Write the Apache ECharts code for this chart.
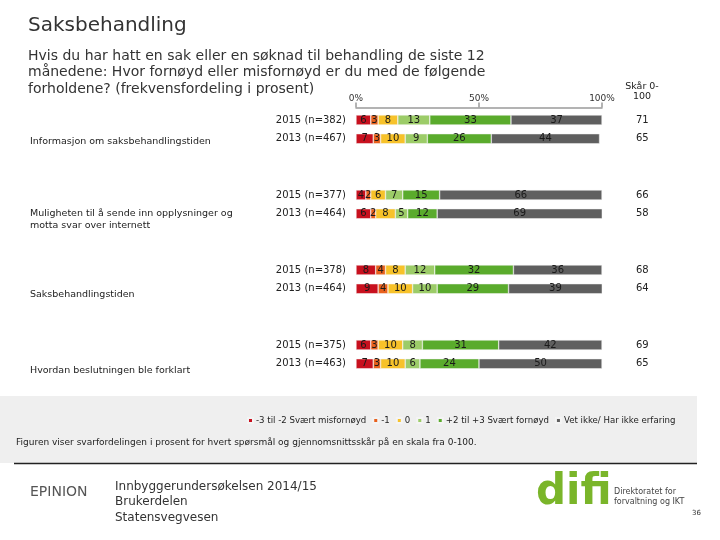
<!DOCTYPE html>
<html><head><meta charset="utf-8">
<script src="https://cdn.jsdelivr.net/npm/echarts@6/dist/echarts.min.js"></script>
<style>html,body{margin:0;padding:0;background:#fff}#c{width:720px;height:540px}</style>
</head><body><div id="c"></div>
<script>
const rowLabels = ["2015 (n=382)","2013 (n=467)","2015 (n=377)","2013 (n=464)","2015 (n=378)","2013 (n=464)","2015 (n=375)","2013 (n=463)"];
const groupLabels = ["Informasjon om saksbehandlingstiden","Muligheten til å sende inn opplysninger og\nmotta svar over internett","Saksbehandlingstiden","Hvordan beslutningen ble forklart"];
const seriesNames = ["-3 til -2 Svært misfornøyd","-1","0","1","+2 til +3 Svært fornøyd","Vet ikke/ Har ikke erfaring"];
const vNeg3to2 = [6,7,4,6,8,9,6,7];
const vNeg1    = [3,3,2,2,4,4,3,3];
const vZero    = [8,10,6,8,8,10,10,10];
const vOne     = [13,9,7,5,12,10,8,6];
const vPos2to3 = [33,26,15,12,32,29,31,24];
const vDontKnow= [37,44,66,69,36,39,42,50];
const scores   = [71,65,66,58,68,64,69,65];
const xTicks = ["0%","50%","100%"];
const colors = ["#c8101e","#e8601c","#f7c22a","#9ccc68","#5aab2c","#5f5f5f"];

const slots = [], slotIdx = [];
rowLabels.forEach((l,i)=>{
  slots.push(l); slotIdx.push(i);
  if (i%2===1 && i<rowLabels.length-1){ slots.push("_b"+i+"a"); slotIdx.push(-1); slots.push("_b"+i+"b"); slotIdx.push(-1); }
});
const pad = arr => slotIdx.map(k => k<0 ? null : arr[k]);
const allVals = [vNeg3to2,vNeg1,vZero,vOne,vPos2to3,vDontKnow];

const chart = echarts.init(document.getElementById('c'), null, {renderer:'canvas'});
const FONT = "DejaVu Sans";
chart.setOption({
  animation:false,
  backgroundColor:'#fff',
  textStyle:{fontFamily:FONT},
  color:colors,
  grid:{left:356,right:118,top:110.6,height:262.5,containLabel:false},
  xAxis:{type:'value',position:'top',min:0,max:100,interval:50,offset:3,
    axisLine:{show:true,lineStyle:{color:'#9a9a9a',width:1.5}},
    axisTick:{show:true,length:5,lineStyle:{color:'#9a9a9a',width:1.5}},
    splitLine:{show:false},
    axisLabel:{fontSize:9,color:'#333',margin:4,formatter:(v)=>xTicks[Math.round(v/50)]}},
  yAxis:[
    {type:'category',inverse:true,data:slots,
      axisLine:{show:false},axisTick:{show:false},
      axisLabel:{fontSize:10,color:'#222',margin:10,formatter:(v)=>v.startsWith('_')?'':v}},
    {type:'category',inverse:true,position:'right',data:slots,
      axisLine:{show:false},axisTick:{show:false},
      axisLabel:{fontSize:10,color:'#222',margin:34,formatter:(v,i)=>slotIdx[i]<0?'':String(scores[slotIdx[i]])}}
  ],
  legend:{left:242,top:411,width:470,itemWidth:5,itemHeight:5,itemGap:6,icon:'rect',
    textStyle:{fontSize:8.6,color:'#222',fontFamily:FONT,padding:[0,0,0,-2]},data:seriesNames},
  series: seriesNames.map((n,si)=>({
    name:n,type:'bar',stack:'s',barWidth:10,yAxisIndex:0,
    data:pad(allVals[si]),
    itemStyle:{color:colors[si],borderColor:'#f4f4f4',borderWidth:0.5},
    label:{show:true,position:'inside',fontSize:10,color:'#1a1a1a',fontFamily:FONT,
      formatter:(p)=>p.value==null?'':String(p.value)}
  })),
  graphic:[
    {type:'rect',shape:{x:0,y:396,width:697,height:67},style:{fill:'#efefef'},z:-10},
    {type:'line',shape:{x1:14,y1:463.5,x2:697,y2:463.5},style:{stroke:'#222',lineWidth:1.5}},
    {type:'text',left:28,top:16,style:{text:'Saksbehandling',fontSize:20,fill:'#333',fontFamily:FONT}},
    {type:'text',left:28,top:48,style:{text:'Hvis du har hatt en sak eller en søknad til behandling de siste 12\nmånedene: Hvor fornøyd eller misfornøyd er du med de følgende\nforholdene? (frekvensfordeling i prosent)',fontSize:14,lineHeight:16.5,fill:'#333',fontFamily:FONT}},
    {type:'text',x:642,y:82,style:{text:'Skår 0-\n100',fontSize:9.5,lineHeight:10,fill:'#222',align:'center',fontFamily:FONT}},
    {type:'text',x:30,y:137,style:{text:groupLabels[0],fontSize:9.5,fill:'#222',fontFamily:FONT}},
    {type:'text',x:30,y:207,style:{text:groupLabels[1],fontSize:9.5,lineHeight:12.5,fill:'#222',fontFamily:FONT}},
    {type:'text',x:30,y:290,style:{text:groupLabels[2],fontSize:9.5,fill:'#222',fontFamily:FONT}},
    {type:'text',x:30,y:366,style:{text:groupLabels[3],fontSize:9.5,fill:'#222',fontFamily:FONT}},
    {type:'text',x:16,y:438,style:{text:'Figuren viser svarfordelingen i prosent for hvert spørsmål og gjennomsnittsskår på en skala fra 0-100.',fontSize:9,fill:'#222',fontFamily:FONT}},
    {type:'text',x:30,y:485,style:{text:'EPINION',fontSize:14,fill:'#555',fontFamily:FONT}},
    {type:'text',x:115,y:479,style:{text:'Innbyggerundersøkelsen 2014/15\nBrukerdelen\nStatensvegvesen',fontSize:12,lineHeight:15.5,fill:'#333',fontFamily:FONT}},
    {type:'text',x:536,y:472,style:{text:'difi',fontSize:42,fontWeight:'bold',fill:'#7ab52a',fontFamily:FONT}},
    {type:'text',x:614,y:487,style:{text:'Direktoratet for\nforvaltning og IKT',fontSize:8,lineHeight:10,fill:'#444',fontFamily:FONT}},
    {type:'text',x:692,y:510,style:{text:'36',fontSize:7,fill:'#333',fontFamily:FONT}}
  ]
});
</script></body></html>
